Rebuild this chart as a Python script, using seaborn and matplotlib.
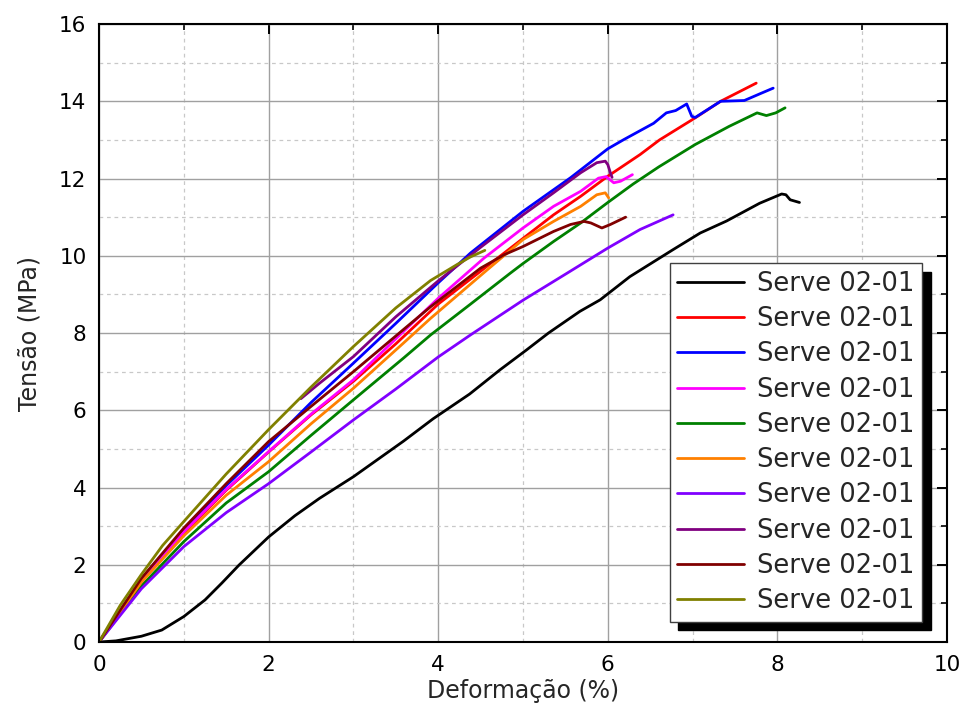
import matplotlib
matplotlib.use("Agg")
import matplotlib.pyplot as plt
import seaborn as sns
from matplotlib.ticker import MultipleLocator

# ------------------ DATA ------------------
label = "Serve 02-01"

black_x = [0, 0.2, 0.5, 0.74, 1.0, 1.25, 1.45, 1.65, 2.0, 2.31, 2.6, 3.0, 3.59, 3.94,
           4.37, 4.73, 5.04, 5.3, 5.67, 5.91, 6.26, 6.77, 7.09, 7.40, 7.79, 8.05, 8.10,
           8.15, 8.26]
black_y = [0, 0.03, 0.15, 0.31, 0.66, 1.09, 1.53, 1.99, 2.72, 3.27, 3.72, 4.28, 5.2, 5.78,
           6.42, 7.05, 7.56, 8.0, 8.56, 8.86, 9.46, 10.16, 10.59, 10.9, 11.36, 11.6, 11.58,
           11.45, 11.38]

red_x = [0, 0.5, 1.0, 1.5, 2.0, 2.5, 3.0, 3.5, 4.0, 4.5, 5.0, 5.36, 5.68, 6.0, 6.38,
         6.61, 7.03, 7.33, 7.75]
red_y = [0, 1.57, 2.82, 3.93, 4.92, 5.88, 6.75, 7.72, 8.75, 9.6, 10.45, 11.06, 11.54,
         12.06, 12.62, 13.0, 13.57, 14.0, 14.47]

blue_x = [0, 0.5, 1.0, 1.5, 2.0, 2.5, 3.0, 3.5, 4.0, 4.38, 5.0, 5.56, 6.0, 6.19, 6.54,
          6.69, 6.8, 6.93, 6.99, 7.03, 7.33, 7.61, 7.8, 7.95]
blue_y = [0, 1.62, 2.92, 4.05, 5.1, 6.2, 7.22, 8.25, 9.3, 10.07, 11.15, 12.02, 12.77,
          13.01, 13.43, 13.7, 13.76, 13.93, 13.61, 13.58, 14.0, 14.02, 14.2, 14.34]

magenta_x = [0, 0.5, 1.0, 1.5, 2.0, 2.5, 3.0, 3.5, 4.0, 4.54, 5.0, 5.36, 5.68, 5.89,
             5.98, 6.07, 6.15, 6.29]
magenta_y = [0, 1.6, 2.85, 3.95, 4.93, 5.9, 6.79, 7.85, 8.9, 9.94, 10.72, 11.28, 11.67,
             12.01, 12.05, 11.89, 11.93, 12.1]

green_x = [0, 0.5, 1.0, 1.5, 2.0, 2.5, 3.0, 3.59, 3.91, 4.37, 4.85, 5.0, 5.36, 5.68,
           6.0, 6.3, 6.6, 7.03, 7.43, 7.76, 7.87, 7.98, 8.09]
green_y = [0, 1.45, 2.6, 3.6, 4.41, 5.35, 6.27, 7.35, 7.95, 8.73, 9.55, 9.8, 10.37,
           10.85, 11.38, 11.86, 12.3, 12.88, 13.35, 13.7, 13.63, 13.7, 13.83]

orange_x = [0, 0.5, 1.0, 1.5, 2.0, 2.5, 3.0, 3.59, 3.91, 4.58, 5.0, 5.36, 5.68, 5.87,
            5.97, 6.01]
orange_y = [0, 1.55, 2.75, 3.8, 4.67, 5.65, 6.57, 7.74, 8.38, 9.64, 10.42, 10.89, 11.28,
            11.58, 11.63, 11.5]

violet_x = [0, 0.5, 1.0, 1.5, 2.0, 2.5, 3.0, 3.5, 4.0, 4.38, 5.0, 5.52, 6.0, 6.38, 6.77]
violet_y = [0, 1.38, 2.47, 3.35, 4.1, 4.92, 5.75, 6.55, 7.38, 7.95, 8.85, 9.55, 10.2,
            10.68, 11.06]

purple_x = [2.38, 2.6, 3.0, 3.5, 4.0, 4.5, 5.0, 5.36, 5.68, 5.87, 5.97, 6.0, 6.03, 6.05]
purple_y = [6.3, 6.7, 7.39, 8.42, 9.35, 10.22, 11.06, 11.63, 12.15, 12.41, 12.45, 12.36,
            12.15, 12.03]

brown_x = [0, 0.5, 1.0, 1.5, 2.0, 2.5, 3.0, 3.59, 3.91, 4.5, 4.78, 5.0, 5.36, 5.56,
           5.72, 5.8, 5.93, 6.03, 6.21]
brown_y = [0, 1.65, 2.95, 4.1, 5.19, 6.1, 7.0, 8.09, 8.68, 9.68, 10.03, 10.24, 10.63,
           10.81, 10.89, 10.85, 10.72, 10.81, 11.0]

olive_x = [0, 0.25, 0.5, 0.75, 1.0, 1.5, 2.0, 2.5, 3.0, 3.5, 3.91, 4.22, 4.38, 4.55]
olive_y = [0, 0.95, 1.75, 2.5, 3.12, 4.35, 5.5, 6.6, 7.65, 8.65, 9.36, 9.77, 9.97, 10.14]

series = [
    (black_x, black_y, "#000000"),
    (red_x, red_y, "#ff0000"),
    (blue_x, blue_y, "#0000ff"),
    (magenta_x, magenta_y, "#ff00ff"),
    (green_x, green_y, "#008000"),
    (orange_x, orange_y, "#ff8000"),
    (violet_x, violet_y, "#8000ff"),
    (purple_x, purple_y, "#800080"),
    (brown_x, brown_y, "#800000"),
    (olive_x, olive_y, "#808000"),
]

# ------------------ PLOT ------------------
sns.set_style("white")
plt.rcParams["font.family"] = ["DejaVu Sans"]

fig = plt.figure(figsize=(9.64, 7.11), dpi=100)
ax = fig.add_axes([0.1027, 0.097, 0.8797, 0.8692])

for xs, ys, col in series:
    sns.lineplot(x=xs, y=ys, color=col, linewidth=2.0, sort=False,
                 estimator=None, label=label, ax=ax)

ax.set_xlim(0, 10)
ax.set_ylim(0, 16)
ax.xaxis.set_major_locator(MultipleLocator(2))
ax.xaxis.set_minor_locator(MultipleLocator(1))
ax.yaxis.set_major_locator(MultipleLocator(2))
ax.yaxis.set_minor_locator(MultipleLocator(1))

ax.grid(which="major", color="#a0a0a0", linewidth=1.0, linestyle="-")
ax.grid(which="minor", color="#c8c8c8", linewidth=0.9, linestyle=(0, (3, 3)))
ax.set_axisbelow(True)

for sp in ax.spines.values():
    sp.set_color("black")
    sp.set_linewidth(1.5)

ax.tick_params(which="both", direction="in", top=True, right=True, colors="black",
               labelsize=15.5)
ax.tick_params(which="major", length=7, width=1.4, pad=9)
ax.tick_params(which="minor", length=4, width=1.2)

ax.set_xlabel("Deformação (%)", fontsize=17, labelpad=3)
ax.set_ylabel("Tensão (MPa)", fontsize=17, labelpad=13)

leg = ax.legend(loc="upper left", bbox_to_anchor=(0.673, 0.613), borderaxespad=0,
                fontsize=18.5, frameon=True, fancybox=False, framealpha=1,
                edgecolor="#404040", handlelength=2.6, labelspacing=0.36,
                handletextpad=0.5, borderpad=0.3,
                shadow={"ox": 6, "oy": -6, "color": "black", "alpha": 1})
leg.get_frame().set_linewidth(1.0)
for h in leg.get_lines():
    h.set_linewidth(2.0)

fig.savefig("out.png", dpi=100)
